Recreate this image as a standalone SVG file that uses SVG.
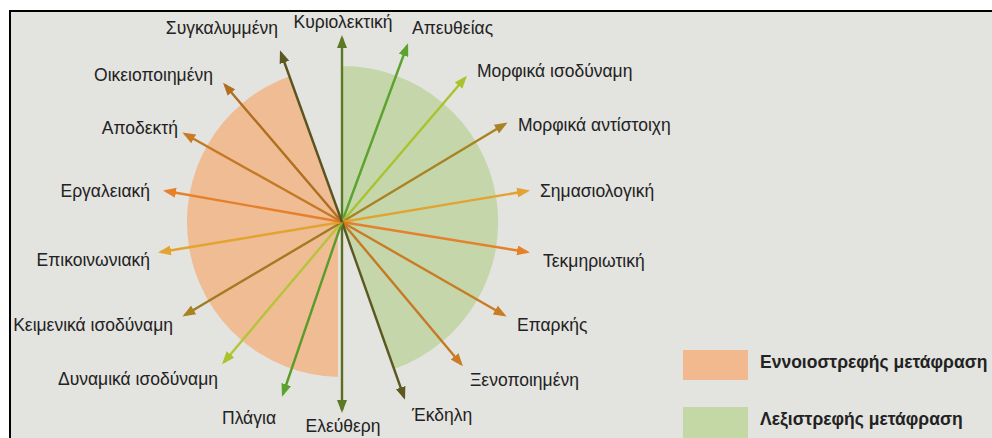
<svg xmlns="http://www.w3.org/2000/svg" width="992" height="438" viewBox="0 0 992 438">
<style>
.lbl{font-family:"Liberation Sans",Arial,sans-serif;font-size:17.5px;fill:#222}
.leg{font-family:"Liberation Sans",Arial,sans-serif;font-size:17.5px;font-weight:bold;fill:#222}
.ar{stroke-width:2.4;fill:none}
</style>
<defs>
<marker id="m1" markerUnits="userSpaceOnUse" markerWidth="14" markerHeight="10" refX="10" refY="5" orient="auto"><path d="M0,0 L13,5 L0,10 z" fill="#5b7a23"/></marker>
<marker id="m2" markerUnits="userSpaceOnUse" markerWidth="14" markerHeight="10" refX="10" refY="5" orient="auto"><path d="M0,0 L13,5 L0,10 z" fill="#5ca22e"/></marker>
<marker id="m3" markerUnits="userSpaceOnUse" markerWidth="14" markerHeight="10" refX="10" refY="5" orient="auto"><path d="M0,0 L13,5 L0,10 z" fill="#aac22c"/></marker>
<marker id="m4" markerUnits="userSpaceOnUse" markerWidth="14" markerHeight="10" refX="10" refY="5" orient="auto"><path d="M0,0 L13,5 L0,10 z" fill="#a98323"/></marker>
<marker id="m5" markerUnits="userSpaceOnUse" markerWidth="14" markerHeight="10" refX="10" refY="5" orient="auto"><path d="M0,0 L13,5 L0,10 z" fill="#e2a331"/></marker>
<marker id="m6" markerUnits="userSpaceOnUse" markerWidth="14" markerHeight="10" refX="10" refY="5" orient="auto"><path d="M0,0 L13,5 L0,10 z" fill="#e5812a"/></marker>
<marker id="m7" markerUnits="userSpaceOnUse" markerWidth="14" markerHeight="10" refX="10" refY="5" orient="auto"><path d="M0,0 L13,5 L0,10 z" fill="#c97c24"/></marker>
<marker id="m8" markerUnits="userSpaceOnUse" markerWidth="14" markerHeight="10" refX="10" refY="5" orient="auto"><path d="M0,0 L13,5 L0,10 z" fill="#5b5820"/></marker>
<marker id="m9" markerUnits="userSpaceOnUse" markerWidth="14" markerHeight="10" refX="10" refY="5" orient="auto"><path d="M0,0 L13,5 L0,10 z" fill="#b06f20"/></marker>
</defs>
<rect x="0" y="0" width="992" height="438" fill="#ffffff"/>
<rect x="10" y="11" width="982" height="427" fill="#e3e3df"/>
<line x1="10" y1="11" x2="992" y2="11" stroke="#000" stroke-width="2"/>
<line x1="10" y1="10" x2="10" y2="438" stroke="#000" stroke-width="2"/>

<g id="sector-orange"><path d="M341,222 L338,222 L338,377 A155,155 0 0 1 289.5,76.2 Z" fill="#f0bc94"/></g>
<g id="sector-green"><path d="M342,222 L342,66 A156,156 0 0 1 394.1,369.1 Z" fill="#c5d7aa"/></g>

<g id="connectors">
<line class="ar" x1="342" y1="222" x2="342" y2="38" stroke="#5b7a23" marker-end="url(#m1)"/>
<line class="ar" x1="342" y1="222" x2="407" y2="46" stroke="#5ca22e" marker-end="url(#m2)"/>
<line class="ar" x1="342" y1="222" x2="465" y2="78" stroke="#aac22c" marker-end="url(#m3)"/>
<line class="ar" x1="342" y1="222" x2="505" y2="124" stroke="#a98323" marker-end="url(#m4)"/>
<line class="ar" x1="342" y1="222" x2="527" y2="191" stroke="#e2a331" marker-end="url(#m5)"/>
<line class="ar" x1="342" y1="222" x2="527" y2="252" stroke="#e5812a" marker-end="url(#m6)"/>
<line class="ar" x1="342" y1="222" x2="504" y2="315" stroke="#c97c24" marker-end="url(#m7)"/>
<line class="ar" x1="342" y1="222" x2="461" y2="364" stroke="#c47a24" marker-end="url(#m7)"/>
<line class="ar" x1="342" y1="222" x2="404" y2="397" stroke="#5b5820" marker-end="url(#m8)"/>
<line class="ar" x1="342" y1="222" x2="342" y2="410" stroke="#5c6e1f" marker-end="url(#m1)"/>
<line class="ar" x1="342" y1="222" x2="283" y2="394" stroke="#5a9c2a" marker-end="url(#m2)"/>
<line class="ar" x1="342" y1="222" x2="224" y2="362" stroke="#b5c43a" marker-end="url(#m3)"/>
<line class="ar" x1="342" y1="222" x2="185" y2="315" stroke="#a07b22" marker-end="url(#m4)"/>
<line class="ar" x1="342" y1="222" x2="161" y2="252" stroke="#e2a331" marker-end="url(#m5)"/>
<line class="ar" x1="342" y1="222" x2="166" y2="191" stroke="#e5812a" marker-end="url(#m6)"/>
<line class="ar" x1="342" y1="222" x2="185" y2="134" stroke="#c47a24" marker-end="url(#m7)"/>
<line class="ar" x1="342" y1="222" x2="225" y2="85" stroke="#b06f20" marker-end="url(#m9)"/>
<line class="ar" x1="342" y1="222" x2="281" y2="53" stroke="#5b5320" marker-end="url(#m8)"/>
</g>

<g id="n-kyriolektiki"><text class="lbl" x="343" y="28" text-anchor="middle">Κυριολεκτική</text></g>
<g id="n-apeftheias"><text class="lbl" x="412" y="34">Απευθείας</text></g>
<g id="n-morfika-isodynami"><text class="lbl" x="477" y="77">Μορφικά ισοδύναμη</text></g>
<g id="n-morfika-antistoixi"><text class="lbl" x="518" y="131">Μορφικά αντίστοιχη</text></g>
<g id="n-simasiologiki"><text class="lbl" x="540" y="197">Σημασιολογική</text></g>
<g id="n-tekmiriotiki"><text class="lbl" x="543" y="267">Τεκμηριωτική</text></g>
<g id="n-eparkis"><text class="lbl" x="517" y="331">Επαρκής</text></g>
<g id="n-xenopoiimeni"><text class="lbl" x="470" y="386">Ξενοποιημένη</text></g>
<g id="n-ekdili"><text class="lbl" x="412" y="421">Έκδηλη</text></g>
<g id="n-eleftheri"><text class="lbl" x="343" y="432" text-anchor="middle">Ελεύθερη</text></g>
<g id="n-plagia"><text class="lbl" x="222" y="424">Πλάγια</text></g>
<g id="n-dynamika"><text class="lbl" x="218" y="385" text-anchor="end">Δυναμικά ισοδύναμη</text></g>
<g id="n-keimenika"><text class="lbl" x="173" y="331" text-anchor="end">Κειμενικά ισοδύναμη</text></g>
<g id="n-epikoinoniaki"><text class="lbl" x="150" y="266" text-anchor="end">Επικοινωνιακή</text></g>
<g id="n-ergaleiaki"><text class="lbl" x="150" y="197" text-anchor="end">Εργαλειακή</text></g>
<g id="n-apodekti"><text class="lbl" x="178" y="134" text-anchor="end">Αποδεκτή</text></g>
<g id="n-oikeiopoiimeni"><text class="lbl" x="213" y="81" text-anchor="end">Οικειοποιημένη</text></g>
<g id="n-sygkalymmeni"><text class="lbl" x="278" y="34" text-anchor="end">Συγκαλυμμένη</text></g>

<g id="legend">
<rect x="683" y="350" width="65" height="30" fill="#f2b98f"/>
<text class="leg" x="760" y="368">Εννοιοστρεφής μετάφραση</text>
<rect x="683" y="407" width="65" height="31" fill="#c4d8a6"/>
<text class="leg" x="760" y="425">Λεξιστρεφής μετάφραση</text>
</g>
</svg>
